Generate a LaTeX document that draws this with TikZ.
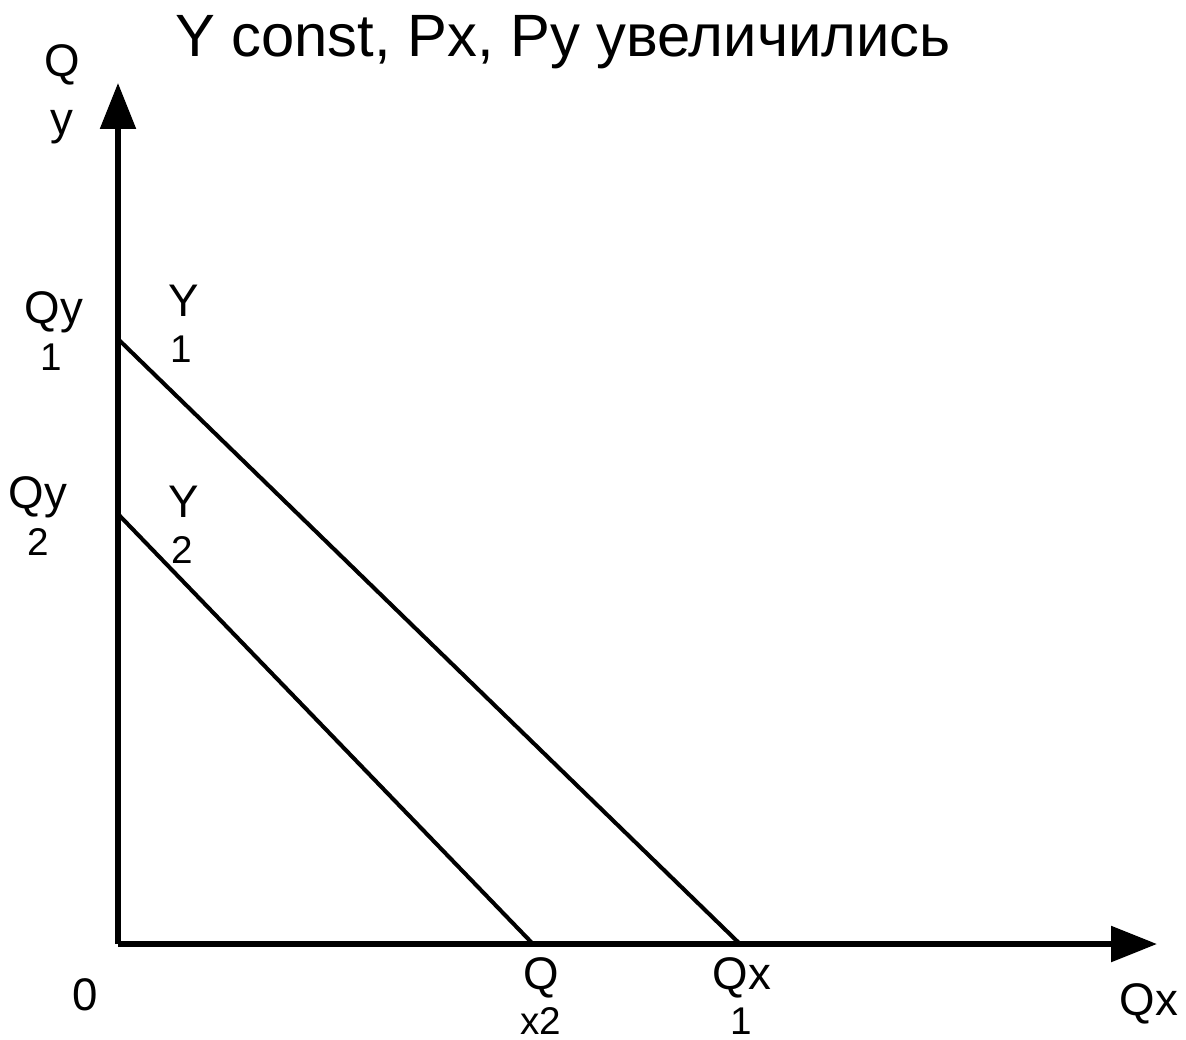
\documentclass[tikz,border=0pt]{standalone}
\usepackage{fontspec}
\setmainfont{Liberation Sans}
\usetikzlibrary{arrows.meta}

\begin{document}
\begin{tikzpicture}[
    x=0.02cm, y=-0.02cm,
    axis/.style={line width=3.2pt, -{Triangle[length=0.92cm, width=0.7cm]}},
    budget/.style={line width=2.3pt},
    lbl/.style={font=\fontsize{26}{30}\selectfont, anchor=base, inner sep=0pt},
    sub/.style={font=\fontsize{22}{26}\selectfont, anchor=base, inner sep=0pt},
    ttl/.style={font=\fontsize{34}{40}\selectfont, anchor=base, inner sep=0pt},
]
\useasboundingbox (0,0) rectangle (1186,1039);

% ============ AXES ============
\coordinate (o) at (118,944);
\coordinate (ytip) at (118,83);
\coordinate (xtip) at (1157,944);
\draw[axis] (o) -- (ytip);
\draw[axis] (o) -- (xtip);

% ============ BUDGET LINES ============
\coordinate (qy1) at (118,339);
\coordinate (qx1) at (740,944);
\coordinate (qy2) at (118,514);
\coordinate (qx2) at (533,944);
\draw[budget] (qy1) -- (qx1);
\draw[budget] (qy2) -- (qx2);

% ============ TITLE ============
\node[ttl] (title) at (563,56) {Y const, Px, Py увеличились};

% ============ AXIS LABELS ============
\node[lbl] (qlbl) at (62,76) {Q};
\node[lbl] (ylbl) at (62,134) {y};
\node[lbl] (xlbl) at (1149,1015) {Qx};
\node[lbl] (zero) at (85,1010) {0};

% intercepts on y axis
\node[lbl] (qy1a) at (54,323) {Qy};
\node[sub] (qy1b) at (51,370) {1};
\node[lbl] (qy2a) at (38,508) {Qy};
\node[sub] (qy2b) at (38,555) {2};

% intercepts on x axis
\node[lbl] (qx2a) at (541,989) {Q};
\node[sub] (qx2b) at (541,1034) {x2};
\node[lbl] (qx1a) at (742,989) {Qx};
\node[sub] (qx1b) at (741,1034) {1};

% line names
\node[lbl] (y1a) at (184,316) {Y};
\node[sub] (y1b) at (181,362) {1};
\node[lbl] (y2a) at (184,517) {Y};
\node[sub] (y2b) at (182,563) {2};

\end{tikzpicture}
\end{document}
